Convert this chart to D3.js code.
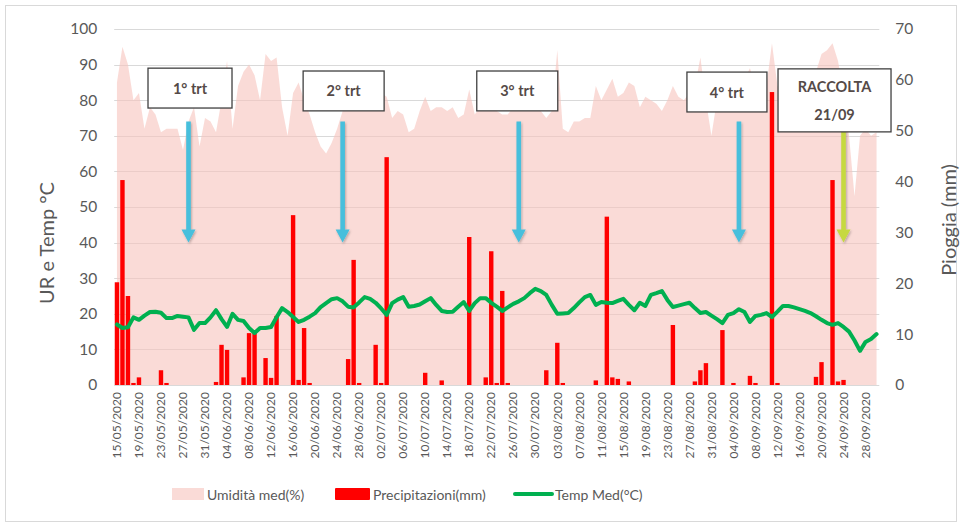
<!DOCTYPE html>
<html>
<head>
<meta charset="utf-8">
<script src="https://cdn.jsdelivr.net/npm/d3@7"></script>
<style>
  body { margin: 0; background: #fff; }
  svg { display: block; font-family: Lato, "Open Sans", sans-serif; }
</style>
</head>
<body>
<svg id="chart" width="962" height="527"></svg>
<script>
// Daily weather series, 15/05/2020 – 30/09/2020 (139 days)
const firstDay = Date.UTC(2020, 4, 15);
const lastDayExclusive = Date.UTC(2020, 9, 1);

// Mean relative humidity (%)
const humidity = [
  85,95,90,80,82,72,78,76,71,72,
  72,72,66,74,78,67,75,74,71,80,
  91,72,84,88,90,87,80,93,91,92,
  78,70,82,85,80,76,71,67,65,68,
  72,77,80,78,82,79,80,78,82,81,
  75,77,76,71,72,77,81,77,78,78,
  77,78,75,76,83,76,78,80,79,77,
  76,76,78,80,79,78,80,77,75,77,
  94,72,71,74,74,75,75,84,80,83,
  86,81,82,85,84,78,81,80,79,77,
  80,84,81,80,82,84,92,80,70,80,
  82,84,82,85,86,89,84,82,84,96,
  84,82,80,83,85,81,84,88,93,94,
  96,91,82,70,53,70,72,70,71
];

// Mean temperature (°C)
const temperature = [
  17,16,16.2,19,18.3,19.5,20.5,20.6,20.3,18.8,
  18.8,19.4,19.2,19,15.5,17.4,17.4,19,21,18.5,
  16.3,20,18.3,18,16,14.6,16,16,16.3,19,
  21.6,20.5,19.1,17.7,18.3,19.2,20.2,21.9,23,24.1,
  24.4,23.5,22,21.8,23.2,24.7,24.2,23.1,21.5,19.7,
  23,24,24.7,22,22.2,22.6,23.5,24.4,22.5,20.8,
  20.5,20.6,22,23.3,20.8,23,24.4,24.4,23.1,22,
  20.8,21.8,22.8,23.5,24.4,25.8,27,26.4,25.3,22.5,
  20,20.1,20.2,21.6,23.2,24.7,25.3,22.5,23.3,23.1,
  23,23.6,24.2,22.5,21,23.1,22.2,25.3,25.8,26.4,
  23.9,21.9,22.3,22.7,23.1,21.6,20.2,20.5,19.5,18.5,
  17.4,19.7,20.2,21.3,20.5,17.7,19.4,19.7,20.2,19.1,
  20.6,22.2,22.2,21.8,21.3,20.8,20.2,19.3,18.3,17.4,
  16.9,17.4,16.3,15,12.5,9.6,12.1,12.9,14.3
];

// Daily rainfall (mm)
const rain = [
  20.2,40.3,17.5,0.4,1.5,0,0,0,2.9,0.4,
  0,0,0,0,0,0,0,0,0.6,7.9,
  6.9,0,0,1.5,10.2,10.2,0,5.3,1.4,13.6,
  0,0,33.4,1,11.2,0.4,0,0,0,0,
  0,0,5.1,24.6,0.4,0,0,7.9,0.4,44.8,
  0,0,0,0,0,0,2.4,0,0,0.9,
  0,0,0,0,29.1,0,0,1.5,26.3,0.4,
  18.5,0.4,0,0,0,0,0,0,2.9,0,
  8.3,0.4,0,0,0,0,0,0.9,0,33.1,
  1.5,1.2,0,0.7,0,0,0,0,0,0,
  0,11.8,0,0,0,0.7,2.9,4.3,0,0,
  10.8,0,0.4,0,0,1.8,0.4,0,0,57.6,
  0.4,0,0,0,0,0,0,1.6,4.5,0,
  40.3,0.7,1,0,0,0,0,0,0
];

const leftTicks = [0,10,20,30,40,50,60,70,80,90,100];
const rightTicks = [0,10,20,30,40,50,60,70];
const labelEvery = 4;

// Treatment / harvest call-outs
const events = [
  { lines: ["1° trt"], date: Date.UTC(2020, 4, 28), color: "#46bfdc", boxDx: 1.5, boxW: 84, boxTop: 89, boxBottom: 77.8 },
  { lines: ["2° trt"], date: Date.UTC(2020, 5, 25), color: "#46bfdc", boxDx: 1, boxW: 81, boxTop: 88.2, boxBottom: 77 },
  { lines: ["3° trt"], date: Date.UTC(2020, 6, 27), color: "#46bfdc", boxDx: -1.5, boxW: 81, boxTop: 88.2, boxBottom: 77 },
  { lines: ["4° trt"], date: Date.UTC(2020, 8, 5), color: "#46bfdc", boxDx: -12, boxW: 80, boxTop: 87.9, boxBottom: 76.7 },
  { lines: ["RACCOLTA", "21/09"], date: Date.UTC(2020, 8, 24), color: "#c6d941", boxDx: -9, boxW: 113, boxTop: 88.8, boxBottom: 71.1 }
];
const arrowFrom = 74, arrowTo = 40;

const legendItems = [
  { label: "Umidità med(%)", kind: "area", color: "#fadbd7", x: 172 },
  { label: "Precipitazioni(mm)", kind: "bar", color: "#ff0000", x: 335 },
  { label: "Temp Med(°C)", kind: "line", color: "#00b050", x: 515 }
];

// ---------------------------------------------------------------
const svg = d3.select("#chart");
const W = 962, H = 527;
const plot = { left: 114.2, right: 879.3, top: 29, bottom: 385 };
const textGrey = "#595959";

const dates = d3.utcDay.range(new Date(firstDay), new Date(lastDayExclusive));
const fmt = d3.utcFormat("%d/%m/%Y");
const idx = dates.map((d, i) => i);

const x = d3.scaleBand().domain(idx).range([plot.left, plot.right]).paddingInner(0).paddingOuter(0);
const cx = i => x(i) + x.bandwidth() / 2;
const yL = d3.scaleLinear().domain([0, 100]).range([plot.bottom, plot.top]);
const yR = d3.scaleLinear().domain([0, 70]).range([plot.bottom, plot.top]);
const dayIndex = t => Math.round((t - firstDay) / 86400000);

// chart frame
svg.append("rect").attr("x", 5.5).attr("y", 5.5).attr("width", W - 11).attr("height", H - 11)
  .attr("fill", "#fff").attr("stroke", "#d9d9d9").attr("stroke-width", 1);

const defs = svg.append("defs");
const shadow = defs.append("filter").attr("id", "soft").attr("x", "-50%").attr("y", "-10%").attr("width", "200%").attr("height", "130%");
shadow.append("feDropShadow").attr("dx", 1).attr("dy", 1.5).attr("stdDeviation", 1.2)
  .attr("flood-color", "#000").attr("flood-opacity", 0.25);

// gridlines
svg.append("g").selectAll("line").data(leftTicks.filter(t => t > 0)).join("line")
  .attr("x1", plot.left).attr("x2", plot.right)
  .attr("y1", d => Math.round(yL(d)) + 0.5).attr("y2", d => Math.round(yL(d)) + 0.5)
  .attr("stroke", "#d9d9d9").attr("stroke-width", 1);

// humidity area
const area = d3.area().x((d, i) => cx(i)).y0(yL(0)).y1(d => yL(d));
svg.append("path").datum(humidity).attr("d", area)
  .attr("fill", "#f7c3bd").attr("fill-opacity", 0.6);

// category axis line
svg.append("line").attr("x1", plot.left).attr("x2", plot.right)
  .attr("y1", plot.bottom + 0.5).attr("y2", plot.bottom + 0.5)
  .attr("stroke", "#d9d9d9").attr("stroke-width", 1);

// rain bars
const barW = x.bandwidth() * 0.8;
svg.append("g").selectAll("rect").data(rain).join("rect")
  .attr("x", (d, i) => cx(i) - barW / 2)
  .attr("width", barW)
  .attr("y", d => yR(d))
  .attr("height", d => yR(0) - yR(d))
  .attr("fill", "#ff0000");

// temperature line
const line = d3.line().x((d, i) => cx(i)).y(d => yL(d));
svg.append("path").datum(temperature).attr("d", line)
  .attr("fill", "none").attr("stroke", "#00b050").attr("stroke-width", 4)
  .attr("stroke-linejoin", "round").attr("stroke-linecap", "round");

// left axis
const axL = svg.append("g").attr("transform", `translate(${plot.left},0)`)
  .call(d3.axisLeft(yL).tickValues(leftTicks).tickSize(0).tickPadding(17));
axL.select(".domain").remove();
axL.selectAll("text").attr("fill", textGrey).style("font-size", "15.5px").style("font-family", "Lato, sans-serif");

// right axis
const axR = svg.append("g").attr("transform", `translate(${plot.right},0)`)
  .call(d3.axisRight(yR).tickValues(rightTicks).tickSize(0).tickPadding(16));
axR.select(".domain").remove();
axR.selectAll("text").attr("fill", textGrey).style("font-size", "15.5px").style("font-family", "Lato, sans-serif");

// date axis
const axB = svg.append("g").attr("transform", `translate(0,${plot.bottom})`)
  .call(d3.axisBottom(x).tickValues(idx.filter(i => i % labelEvery === 0))
    .tickFormat(i => fmt(dates[i])).tickSize(0));
axB.select(".domain").remove();
axB.selectAll("text")
  .attr("transform", "rotate(-90)")
  .attr("x", -7).attr("y", 0).attr("dy", "0.35em")
  .style("text-anchor", "end")
  .attr("fill", textGrey).style("font-size", "12px").style("font-family", "Lato, sans-serif");

// axis titles
svg.append("text").attr("transform", `translate(46,243) rotate(-90)`)
  .attr("text-anchor", "middle").attr("dominant-baseline", "central")
  .attr("fill", textGrey).style("font-size", "20px").text("UR e Temp °C");
svg.append("text").attr("transform", `translate(948,220) rotate(-90)`)
  .attr("text-anchor", "middle").attr("dominant-baseline", "central")
  .attr("fill", textGrey).style("font-size", "20px").text("Pioggia (mm)");

// event arrows and boxes
const ev = svg.append("g").selectAll("g").data(events).join("g");
ev.each(function (d) {
  const g = d3.select(this);
  const ax = cx(dayIndex(d.date));
  const y0 = yL(arrowFrom), y1 = yL(arrowTo);
  const head = 13, halfHead = 7, halfShaft = 2.3;
  g.append("path")
    .attr("d", `M${ax - halfShaft},${y0} L${ax + halfShaft},${y0} L${ax + halfShaft},${y1 - head}
                L${ax + halfHead},${y1 - head} L${ax},${y1} L${ax - halfHead},${y1 - head}
                L${ax - halfShaft},${y1 - head} Z`)
    .attr("fill", d.color).attr("filter", "url(#soft)");
  const bx = ax + d.boxDx - d.boxW / 2;
  const by = yL(d.boxTop), bh = yL(d.boxBottom) - yL(d.boxTop);
  g.append("rect").attr("x", bx).attr("y", by).attr("width", d.boxW).attr("height", bh)
    .attr("fill", "#fff").attr("stroke", "#404040").attr("stroke-width", 1.3);
  const n = d.lines.length;
  d.lines.forEach((t, k) => {
    g.append("text")
      .attr("x", bx + d.boxW / 2)
      .attr("y", by + bh * (k + 0.5) / n + (n > 1 ? (k === 0 ? 1.5 : -1.5) : 0))
      .attr("text-anchor", "middle").attr("dominant-baseline", "central")
      .attr("fill", "#554a47").style("font-size", "14.5px").style("font-weight", "bold")
      .text(t);
  });
});

// legend
const lg = svg.append("g").selectAll("g").data(legendItems).join("g")
  .attr("transform", d => `translate(${d.x},494)`);
lg.each(function (d) {
  const g = d3.select(this);
  let w;
  if (d.kind === "area") { w = 32; g.append("rect").attr("x", 0).attr("y", -6).attr("width", w).attr("height", 12).attr("fill", d.color); }
  else if (d.kind === "bar") { w = 35; g.append("rect").attr("x", 0).attr("y", -6).attr("width", w).attr("height", 12).attr("rx", 1).attr("fill", d.color); }
  else { w = 37; g.append("line").attr("x1", 0).attr("x2", w).attr("y1", 0).attr("y2", 0).attr("stroke", d.color).attr("stroke-width", 4).attr("stroke-linecap", "round"); }
  g.append("text").attr("x", w + 3).attr("y", 0).attr("dominant-baseline", "central")
    .attr("fill", textGrey).style("font-size", "14px").text(d.label);
});
</script>
</body>
</html>
